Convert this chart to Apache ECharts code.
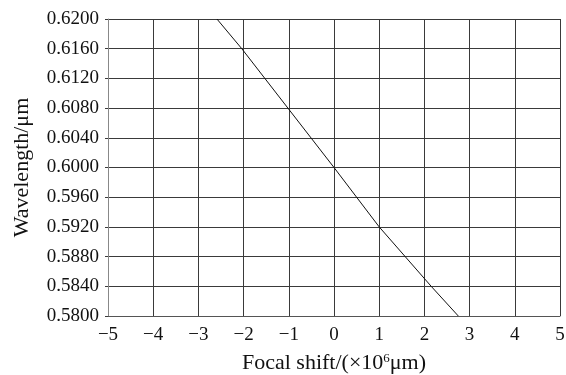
<!DOCTYPE html>
<html>
<head>
<meta charset="utf-8">
<script src="https://cdn.jsdelivr.net/npm/echarts@6/dist/echarts.min.js"></script>
<style>
  html, body { margin: 0; padding: 0; background: #fff; }
  #chart { width: 566px; height: 375px; }
</style>
</head>
<body>
<div id="chart"></div>
<script>
// 焦移 (×10^6 μm) 与波长 (μm) 的读数
const focalShift = [-2.59, -2.04, -1.02, 0, 1.0, 2.15, 2.75];
const wavelength = [0.62, 0.616, 0.608, 0.600, 0.592, 0.584, 0.58];

const seriesData = focalShift.map((x, i) => [x, wavelength[i]]);

const font = "'Liberation Serif', 'DejaVu Serif', serif";
const gridColor = "#3a3a3a";

const chart = echarts.init(document.getElementById("chart"));
chart.setOption({
  animation: false,
  grid: { left: 108, right: 6, top: 19, bottom: 59, outerBoundsMode: "none" },
  xAxis: {
    type: "value",
    min: -5,
    max: 5,
    interval: 1,
    name: "Focal shift/(×10{s|6}μm)",
    nameLocation: "middle",
    nameGap: 36,
    nameTextStyle: {
      color: "#111",
      fontFamily: font,
      fontSize: 22,
      rich: { s: { fontSize: 13, verticalAlign: "top", padding: [0, 0, 9, 0], fontFamily: font, color: "#111" } },
    },
    axisLine: { onZero: false, lineStyle: { color: "#555", width: 1 } },
    axisTick: { show: false },
    axisLabel: {
      color: "#111",
      fontFamily: font,
      fontSize: 19,
      margin: 10,
      formatter: (v) => String(v).replace("-", "−"),
    },
    splitLine: { show: true, lineStyle: { color: gridColor, width: 1 } },
  },
  yAxis: {
    type: "value",
    min: 0.58,
    max: 0.62,
    interval: 0.004,
    name: "Wavelength/μm",
    nameLocation: "middle",
    nameGap: 75,
    nameTextStyle: { color: "#111", fontFamily: font, fontSize: 22 },
    axisLine: { show: true, onZero: false, lineStyle: { color: "#888", width: 1 } },
    axisTick: { show: true, length: 3, inside: false, lineStyle: { color: gridColor } },
    axisLabel: {
      color: "#111",
      fontFamily: font,
      fontSize: 19,
      margin: 9,
      formatter: (v) => v.toFixed(4),
    },
    splitLine: { show: true, lineStyle: { color: gridColor, width: 1 } },
  },
  series: [
    {
      type: "line",
      data: seriesData,
      showSymbol: false,
      symbol: "none",
      lineStyle: { color: "#111", width: 1 },
    },
  ],
});
</script>
</body>
</html>
